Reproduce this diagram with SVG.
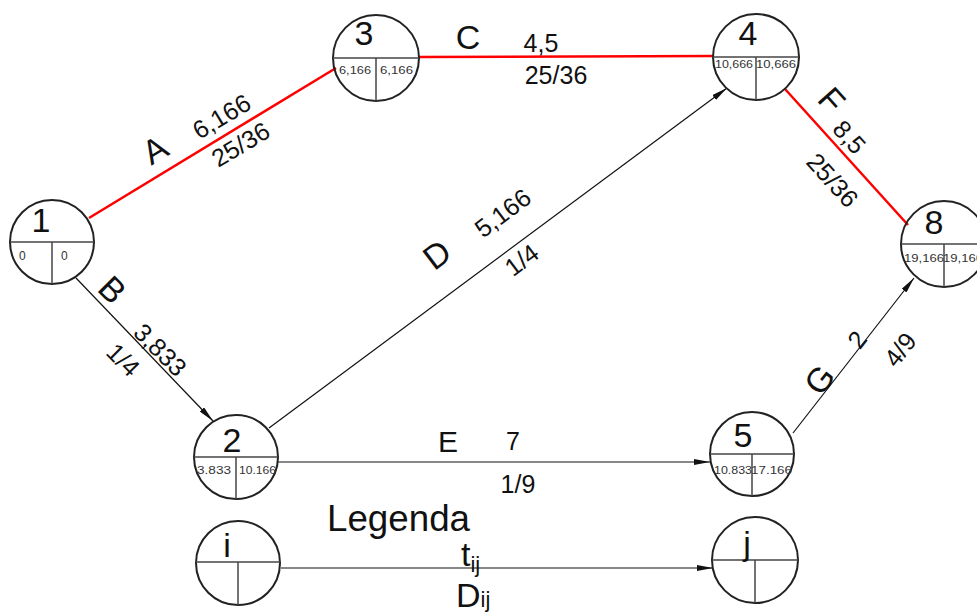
<svg xmlns="http://www.w3.org/2000/svg" width="977" height="614" viewBox="0 0 977 614">
<style>
.nd{fill:none;stroke:#222;stroke-width:2}
.dv{stroke:#444;stroke-width:1.5}
.big{font-family:"Liberation Sans",Arial,sans-serif;font-size:34px;fill:#111;text-anchor:middle}
.sm{font-family:"Liberation Sans",Arial,sans-serif;font-size:10px;fill:#333}
.lb{font-family:"Liberation Sans",Arial,sans-serif;font-size:34px;fill:#111;text-anchor:middle}
.vl{font-family:"Liberation Sans",Arial,sans-serif;font-size:25px;fill:#111;text-anchor:middle}
.lg{font-family:"Liberation Sans",Arial,sans-serif;font-size:36px;fill:#111}
.red{stroke:#f00;stroke-width:2.5;fill:none}
.blk{stroke:#111;stroke-width:1.2;fill:none}
</style>
<defs>
<marker id="ar" viewBox="0 0 16 6" refX="16" refY="3" markerWidth="16" markerHeight="6" markerUnits="userSpaceOnUse" orient="auto">
<path d="M0,0 L16,3 L0,6 Z" fill="#111"/>
</marker>
</defs>
<rect width="977" height="614" fill="#fff"/>
<g id="connectors">
<line class="red" x1="89" y1="218" x2="336" y2="68"/>
<line class="red" x1="419" y1="57" x2="713" y2="56"/>
<line class="red" x1="785" y1="89" x2="908" y2="225"/>
<line class="blk" x1="76" y1="278" x2="213" y2="421" marker-end="url(#ar)"/>
<line class="blk" x1="269" y1="428" x2="727" y2="88" marker-end="url(#ar)"/>
<line class="blk" x1="278" y1="462" x2="710" y2="462" marker-end="url(#ar)"/>
<line class="blk" x1="793" y1="433" x2="914" y2="278" marker-end="url(#ar)"/>
<line class="blk" x1="281" y1="568" x2="713" y2="568" marker-end="url(#ar)"/>
</g>
<g id="edge-labels">
<text class="lb" transform="translate(161,160) rotate(-31)">A</text>
<text class="vl" transform="translate(226,124) rotate(-31)">6,166</text>
<text class="vl" transform="translate(245,152) rotate(-31)">25/36</text>
<text class="lb" x="468" y="49">C</text>
<text class="vl" x="541" y="52">4,5</text>
<text class="vl" x="556" y="84">25/36</text>
<text class="lb" transform="translate(823,108) rotate(48)">F</text>
<text class="vl" transform="translate(843,143) rotate(48)">8,5</text>
<text class="vl" transform="translate(826,186) rotate(48)">25/36</text>
<text class="lb" transform="translate(104,298) rotate(45)">B</text>
<text class="vl" transform="translate(154,356) rotate(45)">3,833</text>
<text class="vl" transform="translate(117,366) rotate(45)">1/4</text>
<text class="lb" transform="translate(444,264) rotate(-37)">D</text>
<text class="vl" transform="translate(508,220) rotate(-37)">5,166</text>
<text class="vl" transform="translate(527,267) rotate(-37)">1/4</text>
<text class="lb" x="448" y="452" style="font-size:30px">E</text>
<text class="vl" x="513" y="450">7</text>
<text class="vl" x="518" y="493">1/9</text>
<text class="lb" transform="translate(829,387) rotate(-52)">G</text>
<text class="vl" transform="translate(864,345) rotate(-52)">2</text>
<text class="vl" transform="translate(907,355) rotate(-52)">4/9</text>
<text class="lg" x="327" y="531" textLength="143" lengthAdjust="spacingAndGlyphs">Legenda</text>
<text class="lg" x="461" y="566" style="font-size:34px">t<tspan dy="6" style="font-size:22px">ij</tspan></text>
<text class="lg" x="456" y="607" style="font-size:34px">D<tspan dy="0" style="font-size:22px">ij</tspan></text>
</g>
<g id="node1">
<circle class="nd" cx="52" cy="242" r="42"/>
<line class="dv" x1="10" y1="242" x2="94" y2="242"/>
<line class="dv" x1="52" y1="242" x2="52" y2="284"/>
<text class="big" x="41" y="232">1</text>
<text class="sm" x="19" y="260" style="font-size:12px">0</text>
<text class="sm" x="61" y="260" style="font-size:12px">0</text>
</g>
<g id="node3">
<circle class="nd" cx="376" cy="58" r="43"/>
<line class="dv" x1="333" y1="58" x2="419" y2="58"/>
<line class="dv" x1="376" y1="58" x2="376" y2="101"/>
<text class="big" x="364" y="45">3</text>
<text class="sm" x="339" y="74" textLength="32" lengthAdjust="spacingAndGlyphs">6,166</text>
<text class="sm" x="380" y="74" textLength="33" lengthAdjust="spacingAndGlyphs">6,166</text>
</g>
<g id="node4">
<circle class="nd" cx="756" cy="57" r="43"/>
<line class="dv" x1="713" y1="57" x2="799" y2="57"/>
<line class="dv" x1="756" y1="57" x2="756" y2="100"/>
<text class="big" x="748" y="45">4</text>
<text class="sm" x="715" y="68" textLength="38" lengthAdjust="spacingAndGlyphs">10,666</text>
<text class="sm" x="756" y="68" textLength="40" lengthAdjust="spacingAndGlyphs">10,666</text>
</g>
<g id="node8">
<circle class="nd" cx="944" cy="244" r="43"/>
<line class="dv" x1="901" y1="244" x2="987" y2="244"/>
<line class="dv" x1="944" y1="244" x2="944" y2="287"/>
<text class="big" x="934" y="234">8</text>
<text class="sm" x="904" y="262" textLength="40" lengthAdjust="spacingAndGlyphs">19,166</text>
<text class="sm" x="943" y="262" textLength="40" lengthAdjust="spacingAndGlyphs">19,166</text>
</g>
<g id="node2">
<circle class="nd" cx="236" cy="457" r="42"/>
<line class="dv" x1="194" y1="457" x2="278" y2="457"/>
<line class="dv" x1="236" y1="457" x2="236" y2="499"/>
<text class="big" x="232" y="452">2</text>
<text class="sm" x="197" y="474" textLength="34" lengthAdjust="spacingAndGlyphs">3.833</text>
<text class="sm" x="239" y="474" textLength="37" lengthAdjust="spacingAndGlyphs">10.166</text>
</g>
<g id="node5">
<circle class="nd" cx="752" cy="454" r="42"/>
<line class="dv" x1="710" y1="454" x2="794" y2="454"/>
<line class="dv" x1="752" y1="454" x2="752" y2="496"/>
<text class="big" x="743" y="447">5</text>
<text class="sm" x="714" y="474" textLength="38" lengthAdjust="spacingAndGlyphs">10.833</text>
<text class="sm" x="751" y="474" textLength="41" lengthAdjust="spacingAndGlyphs">17.166</text>
</g>
<g id="nodei">
<circle class="nd" cx="238" cy="563" r="42"/>
<line class="dv" x1="196" y1="562" x2="280" y2="562"/>
<line class="dv" x1="238" y1="562" x2="238" y2="605"/>
<text class="big" x="227" y="557">i</text>
</g>
<g id="nodej">
<circle class="nd" cx="755" cy="560" r="43"/>
<line class="dv" x1="712" y1="560" x2="798" y2="560"/>
<line class="dv" x1="755" y1="560" x2="755" y2="603"/>
<text class="big" x="747" y="555">j</text>
</g>
</svg>
